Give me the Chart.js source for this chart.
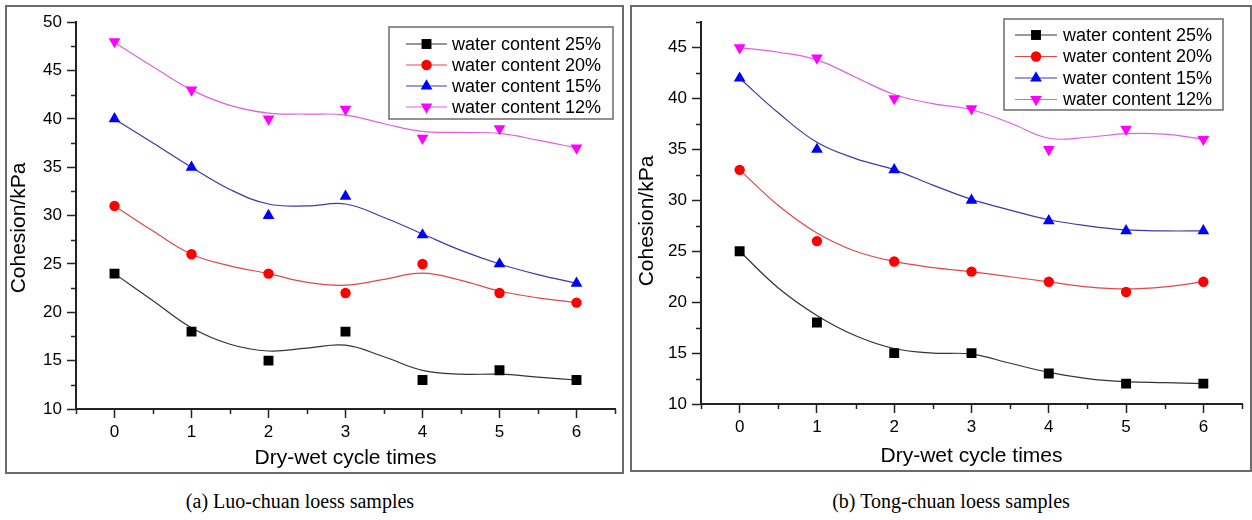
<!DOCTYPE html>
<html>
<head>
<meta charset="utf-8">
<script src="https://cdn.jsdelivr.net/npm/chart.js@4.4.0/dist/chart.umd.min.js"></script>
<style>
html,body{margin:0;padding:0;background:#fff;}
body{width:1252px;height:520px;position:relative;overflow:hidden;font-family:"Liberation Sans",Arial,sans-serif;}
.frame{position:absolute;border:2px solid #6b6b6b;box-sizing:border-box;}
.holder{position:absolute;}
.cap{position:absolute;top:490px;font-family:"Liberation Serif","Times New Roman",serif;font-size:20px;color:#000;white-space:nowrap;transform:translateX(-50%);}
</style>
</head>
<body>
<div class="frame" style="left:5px;top:5px;width:619px;height:469px;"></div>
<div class="holder" style="left:7px;top:7px;width:615px;height:465px;"><canvas id="chartA"></canvas></div>
<div class="frame" style="left:630px;top:5px;width:622px;height:467px;"></div>
<div class="holder" style="left:632px;top:7px;width:617px;height:463px;"><canvas id="chartB"></canvas></div>
<div class="cap" style="left:300px;">(a) Luo-chuan loess samples</div>
<div class="cap" style="left:951px;">(b) Tong-chuan loess samples</div>
<script>
// ---------- data ----------
const cycles = [0, 1, 2, 3, 4, 5, 6];
const fitX = [0, 0.5, 1, 1.5, 2, 2.5, 3, 3.5, 4, 4.5, 5, 5.5, 6];
const seriesNames = ['water content 25%', 'water content 20%', 'water content 15%', 'water content 12%'];
const xTickValues = [0, 1, 2, 3, 4, 5, 6];
const yTicksLuo = [10, 15, 20, 25, 30, 35, 40, 45, 50];
const yTicksTong = [10, 15, 20, 25, 30, 35, 40, 45];
const xAxisTitle = 'Dry-wet cycle times';
const yAxisTitle = 'Cohesion/kPa';

// (a) Luo-chuan measured values
const luo25 = [24, 18, 15, 18, 13, 14, 13];
const luo20 = [31, 26, 24, 22, 25, 22, 21];
const luo15 = [40, 35, 30, 32, 28, 25, 23];
const luo12 = [48, 43, 40, 41, 38, 39, 37];
// (a) smoothed curves at fitX
const luoFit25 = [24, 21.2, 18.4, 16.7, 16.0, 16.3, 16.6, 15.4, 14.0, 13.6, 13.6, 13.3, 13.0];
const luoFit20 = [31, 28.4, 26.0, 24.8, 24.0, 23.1, 22.8, 23.4, 24.05, 23.3, 22.2, 21.5, 21.0];
const luoFit15 = [40, 37.5, 35.0, 32.7, 31.2, 31.0, 31.2, 29.8, 28.1, 26.4, 25.0, 23.9, 23.0];
const luoFit12 = [47.9, 45.4, 43.0, 41.4, 40.6, 40.5, 40.4, 39.5, 38.7, 38.6, 38.5, 37.8, 37.0];

// (b) Tong-chuan measured values
const tong25 = [25, 18, 15, 15, 13, 12, 12];
const tong20 = [33, 26, 24, 23, 22, 21, 22];
const tong15 = [42, 35, 33, 30, 28, 27, 27];
const tong12 = [45, 44, 40, 39, 35, 37, 36];
// (b) smoothed curves at fitX
const tongFit25 = [25, 21.4, 18.7, 16.7, 15.45, 15.0, 14.9, 14.0, 13.1, 12.5, 12.2, 12.1, 12.0];
const tongFit20 = [33, 29.5, 26.8, 25.0, 24.0, 23.4, 23.0, 22.5, 22.0, 21.5, 21.3, 21.5, 22.0];
const tongFit15 = [42, 38.6, 35.7, 34.1, 33.0, 31.5, 30.1, 29.05, 28.1, 27.5, 27.1, 27.0, 27.0];
const tongFit12 = [45, 44.55, 43.8, 42.1, 40.4, 39.5, 38.9, 37.6, 36.1, 36.2, 36.55, 36.5, 36.0];

// ---------- styles ----------
const markerColors = ['#000000', '#ff0000', '#0000ff', '#ff00ff'];
const curveColors = ['#333333', '#e04848', '#3a3aa8', '#e060e0'];
const markerStyles = [
  {pointStyle: 'rect', radius: 7, rotation: 0},
  {pointStyle: 'circle', radius: 5.2, rotation: 0},
  {pointStyle: 'triangle', radius: 6.8, rotation: 0},
  {pointStyle: 'triangle', radius: 6.8, rotation: 180}
];
const FONT = '"Liberation Sans", Arial, sans-serif';

function pairs(xs, ys) { return xs.map((x, i) => ({x: x, y: ys[i]})); }

function drawMarker(ctx, st, color, x, y) {
  ctx.save();
  ctx.fillStyle = color;
  ctx.beginPath();
  const r = st.radius;
  if (st.pointStyle === 'rect') {
    const s = r * Math.SQRT1_2;
    ctx.rect(x - s, y - s, 2 * s, 2 * s);
  } else if (st.pointStyle === 'circle') {
    ctx.arc(x, y, r, 0, Math.PI * 2);
  } else {
    const sgn = st.rotation === 180 ? -1 : 1;
    const w = r * Math.sqrt(3) / 2;
    ctx.moveTo(x, y - sgn * r);
    ctx.lineTo(x - w, y + sgn * r / 2);
    ctx.lineTo(x + w, y + sgn * r / 2);
    ctx.closePath();
  }
  ctx.fill();
  ctx.restore();
}

const decorPlugin = {
  id: 'decor',
  afterDraw(chart, args, o) {
    const ctx = chart.ctx, xs = chart.scales.x, ys = chart.scales.y, a = chart.chartArea;
    ctx.save();
    ctx.strokeStyle = '#222';
    ctx.lineWidth = 1.5;
    // minor ticks x
    for (let v = xs.min; v <= xs.max + 1e-9; v += 1) {
      const px = Math.round(xs.getPixelForValue(v)) + 0.5;
      ctx.beginPath(); ctx.moveTo(px, a.bottom); ctx.lineTo(px, a.bottom + 5); ctx.stroke();
    }
    // minor ticks y
    for (let v = 12.5; v <= ys.max + 1e-9; v += 5) {
      const py = Math.round(ys.getPixelForValue(v)) + 0.5;
      ctx.beginPath(); ctx.moveTo(a.left, py); ctx.lineTo(a.left - 5, py); ctx.stroke();
    }
    // y axis title
    ctx.fillStyle = '#000';
    ctx.font = '21px ' + FONT;
    ctx.textAlign = 'center';
    ctx.textBaseline = 'middle';
    ctx.translate(o.yTitleX, o.yTitleY);
    ctx.rotate(-Math.PI / 2);
    ctx.fillText(yAxisTitle, 0, 0);
    ctx.restore();

    // legend
    const L = o.legend;
    ctx.save();
    ctx.fillStyle = '#fff';
    ctx.fillRect(L.x, L.y, L.w, L.h);
    ctx.strokeStyle = '#6b6b6b';
    ctx.lineWidth = 1.5;
    ctx.strokeRect(L.x, L.y, L.w, L.h);
    ctx.font = '18px ' + FONT;
    ctx.textAlign = 'left';
    ctx.textBaseline = 'middle';
    seriesNames.forEach((name, i) => {
      const ry = L.y + L.firstRow + i * L.rowGap;
      ctx.strokeStyle = curveColors[i];
      ctx.lineWidth = 1.2;
      ctx.beginPath(); ctx.moveTo(L.x + L.l0, ry); ctx.lineTo(L.x + L.l1, ry); ctx.stroke();
      drawMarker(ctx, markerStyles[i], markerColors[i], L.x + (L.l0 + L.l1) / 2, ry);
      ctx.fillStyle = '#000';
      ctx.fillText(name, L.x + L.tx, ry + 1);
    });
    ctx.restore();
  }
};

function makeChart(id, measured, fits, yMax, yTicks, cfg) {
  const datasets = [];
  measured.forEach((vals, i) => {
    datasets.push({
      label: seriesNames[i],
      data: pairs(cycles, vals),
      showLine: false,
      pointStyle: markerStyles[i].pointStyle,
      rotation: markerStyles[i].rotation,
      pointRadius: markerStyles[i].radius,
      pointBackgroundColor: markerColors[i],
      pointBorderColor: markerColors[i],
      pointBorderWidth: 0,
      order: 0
    });
  });
  fits.forEach((vals, i) => {
    datasets.push({
      label: seriesNames[i] + ' (fit)',
      data: pairs(fitX, vals),
      showLine: true,
      borderColor: curveColors[i],
      borderWidth: 1.2,
      pointRadius: 0,
      tension: 0.4,
      fill: false,
      order: 1
    });
  });
  return new Chart(document.getElementById(id), {
    type: 'scatter',
    data: {datasets: datasets},
    options: {
      responsive: true,
      maintainAspectRatio: false,
      devicePixelRatio: 1,
      animation: false,
      layout: {padding: {top: cfg.top, left: 0, right: 0, bottom: 0}},
      plugins: {
        legend: {display: false},
        tooltip: {enabled: false},
        decor: {yTitleX: cfg.yTitleX, yTitleY: cfg.yTitleY, legend: cfg.legend}
      },
      scales: {
        x: {
          type: 'linear', min: -0.5, max: 6.5,
          afterBuildTicks: s => { s.ticks = xTickValues.map(v => ({value: v})); },
          afterFit: s => { s.height = cfg.xHeight; },
          grid: {drawOnChartArea: false, drawTicks: true, tickLength: 9, tickColor: '#222', tickWidth: 1.5},
          border: {display: true, color: '#222', width: 2},
          ticks: {color: '#000', font: {family: FONT, size: 17}, padding: 4, maxRotation: 0, callback: v => String(v)},
          title: {display: true, text: xAxisTitle, color: '#000', font: {family: FONT, size: 21}, padding: {top: 0, bottom: 1}}
        },
        y: {
          type: 'linear', min: 10, max: yMax,
          afterBuildTicks: s => { s.ticks = yTicks.map(v => ({value: v})); },
          afterFit: s => { s.width = 69; },
          grid: {drawOnChartArea: false, drawTicks: true, tickLength: 9, tickColor: '#222', tickWidth: 1.5},
          border: {display: true, color: '#222', width: 2},
          ticks: {color: '#000', font: {family: FONT, size: 17}, padding: 5, callback: v => String(v)}
        }
      }
    },
    plugins: [decorPlugin]
  });
}

makeChart('chartA', [luo25, luo20, luo15, luo12], [luoFit25, luoFit20, luoFit15, luoFit12], 50, yTicksLuo, {
  top: 13, xHeight: 63, yTitleX: 12, yTitleY: 221,
  legend: {x: 382, y: 20, w: 224, h: 92, firstRow: 17, rowGap: 21, l0: 17, l1: 58, tx: 63}
});
makeChart('chartB', [tong25, tong20, tong15, tong12], [tongFit25, tongFit20, tongFit15, tongFit12], 47.5, yTicksTong, {
  top: 5, xHeight: 66, yTitleX: 15, yTitleY: 214,
  legend: {x: 372, y: 12, w: 219, h: 91, firstRow: 16, rowGap: 21.5, l0: 11, l1: 53, tx: 59}
});
</script>
</body>
</html>
